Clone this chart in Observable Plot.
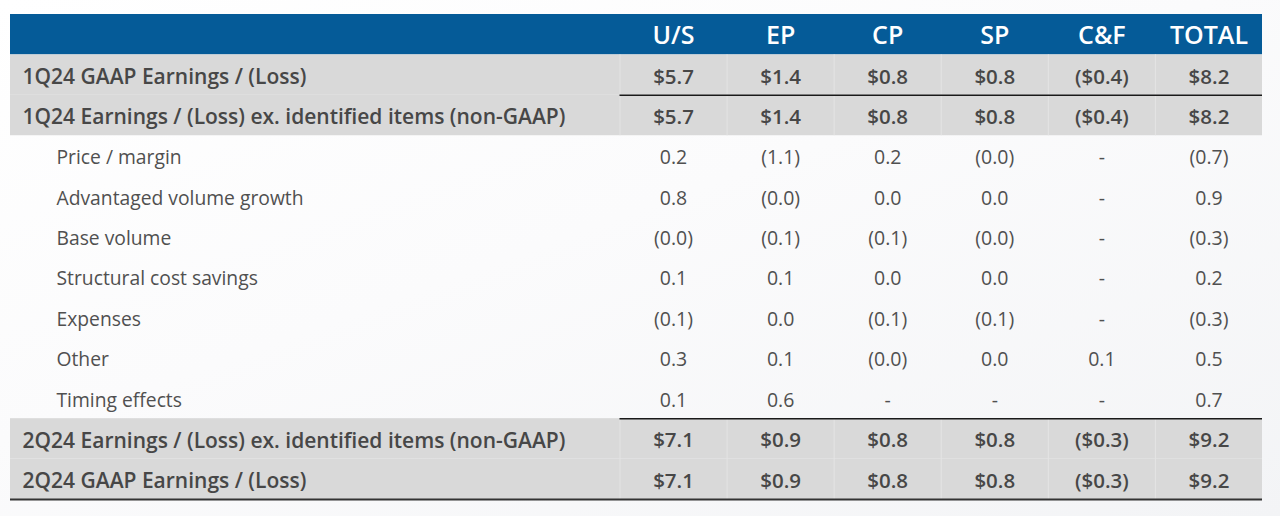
<!DOCTYPE html>
<html>
<head>
<meta charset="utf-8">
<script src="https://cdn.jsdelivr.net/npm/d3@7"></script>
<script src="https://cdn.jsdelivr.net/npm/@observablehq/plot@0.6"></script>
<style>
  html, body { margin: 0; padding: 0; }
  body { width: 1280px; height: 516px; overflow: hidden;
         background: linear-gradient(160deg, #ffffff 0%, #fbfbfc 45%, #f3f4f6 100%); }
  #chart svg { display: block; background: transparent !important; }
</style>
</head>
<body>
<div id="chart"></div>
<script>
// ---- data ----
const columns = ["U/S", "EP", "CP", "SP", "C&F", "TOTAL"];
const rowLabels = [
  "1Q24 GAAP Earnings / (Loss)",
  "1Q24 Earnings / (Loss) ex. identified items (non-GAAP)",
  "Price / margin",
  "Advantaged volume growth",
  "Base volume",
  "Structural cost savings",
  "Expenses",
  "Other",
  "Timing effects",
  "2Q24 Earnings / (Loss) ex. identified items (non-GAAP)",
  "2Q24 GAAP Earnings / (Loss)"
];
const summaryRows = [0, 1, 9, 10]; // grey, bold rows (index into rowLabels)
const usValues    = ["$5.7", "$5.7", "0.2", "0.8", "(0.0)", "0.1", "(0.1)", "0.3", "0.1", "$7.1", "$7.1"];
const epValues    = ["$1.4", "$1.4", "(1.1)", "(0.0)", "(0.1)", "0.1", "0.0", "0.1", "0.6", "$0.9", "$0.9"];
const cpValues    = ["$0.8", "$0.8", "0.2", "0.0", "(0.1)", "0.0", "(0.1)", "(0.0)", "-", "$0.8", "$0.8"];
const spValues    = ["$0.8", "$0.8", "(0.0)", "0.0", "(0.0)", "0.0", "(0.1)", "0.0", "-", "$0.8", "$0.8"];
const cfValues    = ["($0.4)", "($0.4)", "-", "-", "-", "-", "-", "0.1", "-", "($0.3)", "($0.3)"];
const totalValues = ["$8.2", "$8.2", "(0.7)", "0.9", "(0.3)", "0.2", "(0.3)", "0.5", "0.7", "$9.2", "$9.2"];
const columnValues = [usValues, epValues, cpValues, spValues, cfValues, totalValues];

// ---- build tables ----
// column k (1..6) sits at x = k; label column occupies the space to the left
const labelLeft = 0.5 - 609 / 107;
const rightEdge = columns.length + 0.5;
const rows = rowLabels.map((label, i) => ({label, row: i + 1, bold: summaryRows.includes(i)}));
const cells = [];
columnValues.forEach((vals, c) => vals.forEach((v, i) => {
  cells.push({col: c + 1, row: i + 1, text: v, bold: summaryRows.includes(i)});
}));
const headers = columns.map((name, c) => ({name, col: c + 1, row: 0}));
const greyRows = rows.filter(d => d.bold);
const detailRows = rows.filter(d => !d.bold);
const dividers = [];
greyRows.forEach(r => columns.forEach((_, c) => dividers.push({row: r.row, x: c + 0.5})));

const font = "'Open Sans', 'Noto Sans', sans-serif";
const textColor = "#474747";

const chart = Plot.plot({
  width: 1280,
  height: 516,
  marginTop: 14,
  marginBottom: 17,
  marginLeft: 10,
  marginRight: 18,
  style: {fontFamily: font, background: "transparent", overflow: "visible"},
  x: {type: "linear", domain: [labelLeft, rightEdge], axis: null},
  y: {type: "linear", domain: [rowLabels.length + 0.5, -0.5], axis: null},
  marks: [
    // header band
    Plot.rect([{row: 0}], {x1: labelLeft, x2: rightEdge, y1: d => d.row - 0.5, y2: d => d.row + 0.5, fill: "#055b98"}),
    // grey summary rows
    Plot.rect(greyRows, {x1: labelLeft, x2: rightEdge, y1: d => d.row - 0.5, y2: d => d.row + 0.5, fill: "#d9d9d9"}),
    // faint column dividers inside grey rows
    Plot.ruleX(dividers, {x: "x", y1: d => d.row - 0.5, y2: d => d.row + 0.5, stroke: "#e4e4e4", strokeWidth: 1}),
    // black separators
    Plot.ruleY([1.5, 9.5], {x1: 0.5, x2: rightEdge, stroke: "#1a1a1a", strokeWidth: 1.5}),
    Plot.ruleY([rowLabels.length + 0.5], {x1: labelLeft, x2: rightEdge, stroke: "#333333", strokeWidth: 2}),
    // header text
    Plot.text(headers, {x: "col", y: "row", text: "name", fill: "white", fontSize: 25, fontWeight: 600, dy: 1}),
    // row labels
    Plot.text(greyRows, {x: labelLeft, y: "row", text: "label", textAnchor: "start",
      dx: 12, dy: 2, fill: textColor, fontSize: 21, fontWeight: 600}),
    Plot.text(detailRows, {x: labelLeft, y: "row", text: "label", textAnchor: "start",
      dx: 46, dy: 2, fill: "#505050", fontSize: 19.3, fontWeight: 400}),
    // values
    Plot.text(cells.filter(d => d.bold), {x: "col", y: "row", text: "text", fill: textColor,
      fontSize: 20.5, fontWeight: 600, dy: 2}),
    Plot.text(cells.filter(d => !d.bold), {x: "col", y: "row", text: "text", fill: "#505050",
      fontSize: 19.5, fontWeight: 400, dy: 2})
  ]
});
document.getElementById("chart").append(chart);
</script>
</body>
</html>
